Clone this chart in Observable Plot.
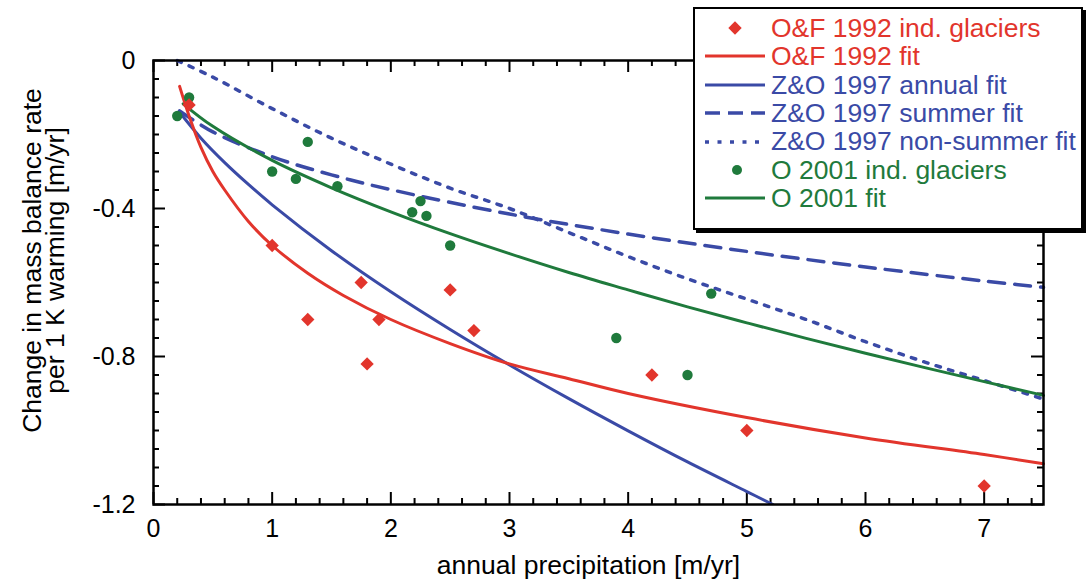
<!DOCTYPE html>
<html>
<head>
<meta charset="utf-8">
<script src="https://cdn.jsdelivr.net/npm/d3@7"></script>
<script src="https://cdn.jsdelivr.net/npm/@observablehq/plot@0.6"></script>
<style>
  html, body { margin: 0; padding: 0; background: white; }
  #wrap { position: relative; width: 1090px; height: 580px; font-family: "Liberation Sans", Arial, Helvetica, sans-serif; }
  #legend { position: absolute; left: 693px; top: 7px; width: 386px; height: 214px; border: 2px solid #000;
            box-shadow: 3px 3px 0 #000; background: #fff; padding-top: 4.8px; box-sizing: content-box; }
  .row { display: flex; align-items: center; height: 28.4px; font-size: 26.5px; line-height: 28.4px; white-space: nowrap; }
  .row svg { flex: none; }
</style>
</head>
<body>
<div id="wrap"></div>
<script>
// ---- data ----
// O&F 1992 individual glaciers
const ofX = [0.3, 1.0, 1.3, 1.75, 1.8, 1.9, 2.5, 2.7, 4.2, 5.0, 7.0];
const ofY = [-0.12, -0.50, -0.70, -0.60, -0.82, -0.70, -0.62, -0.73, -0.85, -1.00, -1.15];
// O&F 1992 fit
const ofFitX = [0.22, 0.3, 0.4, 0.5, 0.6, 0.8, 1.0, 1.3, 1.6, 2.0, 2.5, 3.0, 3.5, 4.0, 5.0, 6.0, 7.0, 7.5];
const ofFitY = [-0.07, -0.15, -0.235, -0.30, -0.35, -0.435, -0.50, -0.575, -0.635, -0.70, -0.765, -0.82, -0.86, -0.90, -0.965, -1.02, -1.065, -1.09];
// Z&O 1997 annual fit
const zoAnnX = [0.22, 0.4, 0.6, 0.8, 1.0, 1.5, 2.0, 2.5, 3.0, 3.5, 4.0, 4.5, 5.0, 5.22];
const zoAnnY = [-0.14, -0.21, -0.276, -0.335, -0.39, -0.514, -0.625, -0.727, -0.823, -0.914, -1.001, -1.085, -1.165, -1.2];
// Z&O 1997 summer fit
const zoSumX = [0.22, 0.5, 1.0, 1.5, 2.0, 3.0, 4.0, 5.0, 6.0, 7.0, 7.5];
const zoSumY = [-0.136, -0.193, -0.26, -0.309, -0.349, -0.415, -0.469, -0.516, -0.558, -0.596, -0.613];
// Z&O 1997 non-summer fit
const zoNonX = [0.2, 0.5, 1.0, 1.5, 2.0, 2.5, 3.0, 3.5, 4.0, 4.5, 5.0, 5.5, 6.0, 6.5, 7.0, 7.5];
const zoNonY = [0.0, -0.045, -0.13, -0.21, -0.28, -0.345, -0.40, -0.465, -0.53, -0.59, -0.645, -0.70, -0.76, -0.815, -0.865, -0.915];
// O 2001 individual glaciers
const oX = [0.2, 0.3, 1.0, 1.2, 1.3, 1.55, 2.18, 2.25, 2.3, 2.5, 3.9, 4.5, 4.7];
const oY = [-0.15, -0.10, -0.30, -0.32, -0.22, -0.34, -0.41, -0.38, -0.42, -0.50, -0.75, -0.85, -0.63];
// O 2001 fit
const oFitX = [0.25, 0.5, 1.0, 1.5, 2.0, 2.5, 3.0, 3.5, 4.0, 4.5, 5.0, 5.5, 6.0, 6.5, 7.0, 7.5];
const oFitY = [-0.117, -0.178, -0.27, -0.344, -0.409, -0.468, -0.522, -0.573, -0.62, -0.666, -0.709, -0.751, -0.791, -0.830, -0.868, -0.905];

// ticks and labels
const xTickLabels = [0, 1, 2, 3, 4, 5, 6, 7];
const xMinorTicks = d3.range(0, 76, 2).map(d => d / 10).filter(d => !xTickLabels.includes(d));
const yTickLabels = [0, -0.4, -0.8, -1.2];
const yMinorTicks = d3.range(0, 25).map(d => -d * 0.05).filter(d => !yTickLabels.some(t => Math.abs(t - d) < 1e-9));

const xTitle = "annual precipitation [m/yr]";
const yTitle = "Change in mass balance rate\nper 1 K warming [m/yr]";

const legendItems = [
  {label: "O&F 1992 ind. glaciers", kind: "diamond", color: "#e2352c"},
  {label: "O&F 1992 fit", kind: "solid", color: "#e2352c"},
  {label: "Z&O 1997 annual fit", kind: "solid", color: "#3a4aa6"},
  {label: "Z&O 1997 summer fit", kind: "dashed", color: "#3a4aa6"},
  {label: "Z&O 1997 non-summer fit", kind: "dotted", color: "#3a4aa6"},
  {label: "O 2001 ind. glaciers", kind: "dot", color: "#1f7a3c"},
  {label: "O 2001 fit", kind: "solid", color: "#1f7a3c"}
];

// ---- build ----
const RED = "#e2352c", BLUE = "#3a4aa6", GREEN = "#1f7a3c";
const W = 1090, H = 580, mL = 153, mR = 47, mT = 60, mB = 76;
const fH = H - mT - mB, fW = W - mL - mR;
const zip = (xs, ys) => xs.map((x, i) => ({x, y: ys[i]}));
const tickMajor = 12, tickMinor = 6;

const chart = Plot.plot({
  width: W, height: H,
  marginLeft: mL, marginRight: mR, marginTop: mT, marginBottom: mB,
  x: {domain: [0, 7.5]},
  y: {domain: [-1.2, 0]},
  style: {fontFamily: "'Liberation Sans', Arial, Helvetica, sans-serif", color: "#000", background: "#fff", overflow: "visible"},
  marks: [
    Plot.axisX({ticks: xTickLabels, tickSize: 0, tickPadding: 15, fontSize: 25, label: null, tickFormat: d => String(d)}),
    Plot.axisY({ticks: yTickLabels, tickSize: 0, tickPadding: 18, fontSize: 25, label: null,
                tickFormat: d => d === 0 ? "0" : d.toFixed(1)}),
    // inward ticks on all four sides
    Plot.ruleX(xMinorTicks, {x: d => d, insetTop: fH - tickMinor, stroke: "#000", strokeWidth: 2}),
    Plot.ruleX(xTickLabels, {x: d => d, insetTop: fH - tickMajor, stroke: "#000", strokeWidth: 2}),
    Plot.ruleX(xMinorTicks, {x: d => d, insetBottom: fH - tickMinor, stroke: "#000", strokeWidth: 2}),
    Plot.ruleX(xTickLabels, {x: d => d, insetBottom: fH - tickMajor, stroke: "#000", strokeWidth: 2}),
    Plot.ruleY(yMinorTicks, {y: d => d, insetRight: fW - tickMinor, stroke: "#000", strokeWidth: 2}),
    Plot.ruleY(yTickLabels, {y: d => d, insetRight: fW - tickMajor, stroke: "#000", strokeWidth: 2}),
    Plot.ruleY(yMinorTicks, {y: d => d, insetLeft: fW - tickMinor, stroke: "#000", strokeWidth: 2}),
    Plot.ruleY(yTickLabels, {y: d => d, insetLeft: fW - tickMajor, stroke: "#000", strokeWidth: 2}),
    // fits
    Plot.line(zip(zoNonX, zoNonY), {x: "x", y: "y", stroke: BLUE, strokeWidth: 3.5, strokeDasharray: "4.5,8.5", curve: "catmull-rom"}),
    Plot.line(zip(zoSumX, zoSumY), {x: "x", y: "y", stroke: BLUE, strokeWidth: 3.5, strokeDasharray: "16,10", curve: "catmull-rom"}),
    Plot.line(zip(oFitX, oFitY), {x: "x", y: "y", stroke: GREEN, strokeWidth: 3, curve: "catmull-rom"}),
    Plot.line(zip(zoAnnX, zoAnnY), {x: "x", y: "y", stroke: BLUE, strokeWidth: 3, curve: "catmull-rom", clip: true}),
    Plot.line(zip(ofFitX, ofFitY), {x: "x", y: "y", stroke: RED, strokeWidth: 3, curve: "catmull-rom"}),
    // points
    Plot.dot(zip(oX, oY), {x: "x", y: "y", r: 5.2, fill: GREEN, stroke: "none"}),
    Plot.dot(zip(ofX, ofY), {x: "x", y: "y", r: 6, symbol: "diamond2", fill: RED, stroke: "none"}),
    Plot.frame({stroke: "#000", strokeWidth: 2.5}),
    // axis titles
    Plot.text([xTitle], {frameAnchor: "bottom", lineAnchor: "bottom", dy: 69, dx: -10, fontSize: 26.5, fill: "#000"}),
    Plot.text([yTitle], {frameAnchor: "left", rotate: -90, dx: -108, dy: -22, fontSize: 26.5, lineHeight: 0.87,
                         lineAnchor: "middle", textAnchor: "middle", fill: "#000"})
  ]
});

const wrap = document.getElementById("wrap");
wrap.appendChild(chart);

// legend overlay
const legend = document.createElement("div");
legend.id = "legend";
for (const item of legendItems) {
  const row = document.createElement("div");
  row.className = "row";
  const ns = "http://www.w3.org/2000/svg";
  const s = document.createElementNS(ns, "svg");
  s.setAttribute("width", 76); s.setAttribute("height", 28);
  let el;
  if (item.kind === "diamond") {
    el = document.createElementNS(ns, "path");
    el.setAttribute("d", "M40,7.3L46.7,14L40,20.7L33.3,14Z");
    el.setAttribute("fill", item.color);
  } else if (item.kind === "dot") {
    el = document.createElementNS(ns, "circle");
    el.setAttribute("cx", 42); el.setAttribute("cy", 14); el.setAttribute("r", 5);
    el.setAttribute("fill", item.color);
  } else {
    el = document.createElementNS(ns, "line");
    el.setAttribute("x1", 10); el.setAttribute("x2", 70);
    el.setAttribute("y1", 14); el.setAttribute("y2", 14);
    el.setAttribute("stroke", item.color);
    el.setAttribute("stroke-width", item.kind === "solid" ? 3 : 3.5);
    if (item.kind === "dashed") el.setAttribute("stroke-dasharray", "15,8");
    if (item.kind === "dotted") el.setAttribute("stroke-dasharray", "4,8.5");
  }
  s.appendChild(el);
  row.appendChild(s);
  const t = document.createElement("span");
  t.textContent = item.label;
  t.style.color = item.color;
  row.appendChild(t);
  legend.appendChild(row);
}
wrap.appendChild(legend);
</script>
</body>
</html>
